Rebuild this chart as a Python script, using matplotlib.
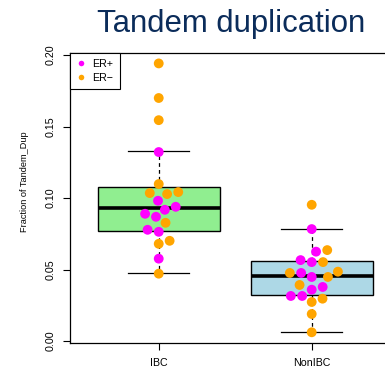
import numpy as np
import matplotlib
matplotlib.use("Agg")
import matplotlib.pyplot as plt
from matplotlib.lines import Line2D

plt.rcParams['font.family'] = ['Liberation Sans', 'DejaVu Sans']

groups = ['IBC', 'NonIBC']

# points, by ER status
ibc_er_pos = [0.1322, 0.0981, 0.0939, 0.0918, 0.0890, 0.0869, 0.0778, 0.0764, 0.0576]
ibc_er_neg = [0.1942, 0.1700, 0.1545, 0.1098, 0.1042, 0.1035, 0.1028, 0.0827, 0.0701, 0.0680, 0.0471]
non_er_pos = [0.0783, 0.0625, 0.0566, 0.0552, 0.0476, 0.0448, 0.0378, 0.0359, 0.0315, 0.0315]
non_er_neg = [0.0953, 0.0636, 0.0552, 0.0485, 0.0476, 0.0448, 0.0392, 0.0296, 0.0273, 0.0189, 0.0061]

# box stats
box_q1 = [0.0771, 0.0320]
box_med = [0.0927, 0.0452]
box_q3 = [0.1075, 0.0557]
whisk_lo = [0.0473, 0.0061]
whisk_hi = [0.1329, 0.0785]

box_colors = ['#90EE90', '#ADD8E6']
col_pos = '#FF00FF'
col_neg = '#FFA500'

yticks = [0.00, 0.05, 0.10, 0.15, 0.20]
ytick_labels = ['0.00', '0.05', '0.10', '0.15', '0.20']

W, H = 385, 371
fig = plt.figure(figsize=(W / 100, H / 100), dpi=100)
ax = fig.add_axes([70 / W, 28 / H, 333.5 / W, 290.3 / H])
xlim = (0.42, 2.6)
ylim = (-0.0014, 0.2017)
ax.set_xlim(*xlim)
ax.set_ylim(*ylim)

stats = []
for i in range(2):
    stats.append(dict(med=box_med[i], q1=box_q1[i], q3=box_q3[i],
                      whislo=whisk_lo[i], whishi=whisk_hi[i], fliers=[]))
bp = ax.bxp(stats, positions=[1, 2], widths=0.8, capwidths=0.4,
            patch_artist=True, showfliers=False,
            boxprops=dict(edgecolor='black', linewidth=1.0),
            medianprops=dict(color='black', linewidth=2.6, solid_capstyle='butt'),
            whiskerprops=dict(color='black', linestyle=(0, (3, 2.5)), linewidth=0.9),
            capprops=dict(color='black', linewidth=0.9))
for patch, c in zip(bp['boxes'], box_colors):
    patch.set_facecolor(c)


# simple beeswarm (ascending priority), worked out in pixels
px_x = 333.5 / (xlim[1] - xlim[0])
px_y = 290.3 / (ylim[1] - ylim[0])


def swarm(vals, d=11.3):
    vals = np.asarray(vals, dtype=float)
    ys = vals * px_y
    xs = np.zeros(len(vals))
    placed = []
    for i in np.argsort(vals, kind='stable'):
        y = ys[i]
        glut = [j for j in placed if abs(ys[j] - y) < d]
        offs = [np.sqrt(d ** 2 - (ys[j] - y) ** 2) for j in glut]
        cands = [0.0] + [xs[j] + o for j, o in zip(glut, offs)] + [xs[j] - o for j, o in zip(glut, offs)]
        ok = [c for c in cands
              if all(np.hypot(c - xs[j], ys[j] - y) >= d - 1e-6 for j in glut)]
        xs[i] = min(ok, key=abs)
        placed.append(i)
    return xs / px_x


for pos, pv, nv in [(1, ibc_er_pos, ibc_er_neg), (2, non_er_pos, non_er_neg)]:
    allv = list(pv) + list(nv)
    cols = [col_pos] * len(pv) + [col_neg] * len(nv)
    dx = swarm(allv)
    ax.scatter(pos + dx, allv, s=50, c=cols, linewidths=0, zorder=3)

for sp in ax.spines.values():
    sp.set_linewidth(0.9)

ax.set_xticks([1, 2])
ax.set_xticklabels(groups)
ax.set_yticks(yticks)
ax.set_yticklabels(ytick_labels, rotation=90, va='center')
ax.tick_params(axis='x', length=5, width=0.8, labelsize=7.7, pad=6)
ax.tick_params(axis='y', length=5, width=0.8, labelsize=7.7, pad=5)

fig.text(25 / W, 1 - 182 / H, 'Fraction of Tandem_Dup', rotation=90,
         ha='center', va='center', fontsize=6.6)

fig.text(231 / W, 1 - 32 / H, 'Tandem duplication', fontsize=22.4,
         color='#0B2C5A', ha='center', va='baseline')

handles = [Line2D([], [], marker='o', linestyle='none', color=col_pos, markersize=4, markeredgewidth=0),
           Line2D([], [], marker='o', linestyle='none', color=col_neg, markersize=4, markeredgewidth=0)]
leg = ax.legend(handles, ['ER+', 'ER\u2212'], loc='upper left', borderaxespad=0,
                fancybox=False, edgecolor='black', framealpha=1, fontsize=7.7,
                handlelength=0.9, handletextpad=0.6, labelspacing=0.35, borderpad=0.6)
leg.get_frame().set_linewidth(0.8)

fig.savefig('out.png', dpi=100)
